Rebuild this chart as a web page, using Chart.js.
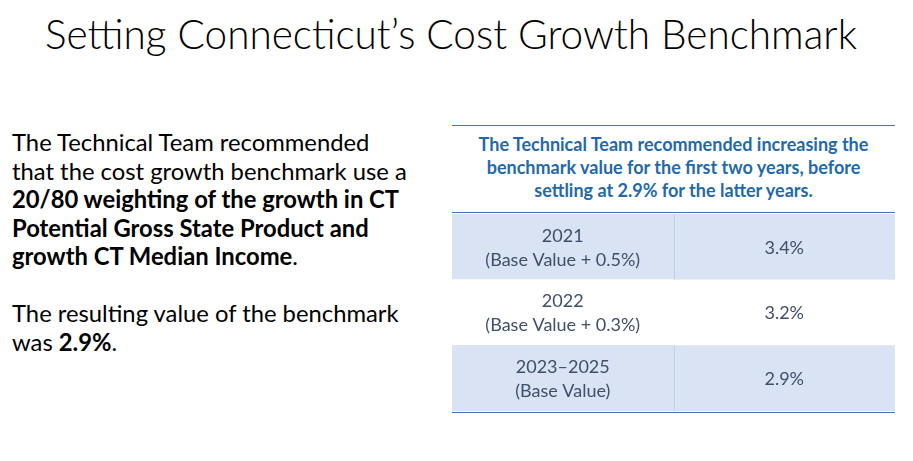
<!DOCTYPE html>
<html>
<head>
<meta charset="utf-8">
<script src="https://cdn.jsdelivr.net/npm/chart.js@4/dist/chart.umd.min.js"></script>
<style>
  body { margin: 0; width: 913px; height: 461px; background: #fff; position: relative; overflow: hidden; font-family: Lato, "Open Sans", sans-serif; }
  #title { position: absolute; left: 0; top: 9px; width: 902px; text-align: center; font-size: 40.5px; font-weight: 300; color: #000; }
  #body { position: absolute; left: 12px; top: 128px; font-size: 23.8px; line-height: 28.5px; color: #000; }
  #body p { margin: 0 0 28.5px 0; }
  #head { position: absolute; left: 452px; top: 125px; width: 443px; height: 88px; border-top: 1.5px solid #4472c4; border-bottom: 1.5px solid #4472c4; box-sizing: border-box; }
  #head div { padding-top: 6.5px; text-align: center; color: #2369a8; font-weight: bold; font-size: 18px; line-height: 23.3px; }
  #wrap { position: absolute; left: 452px; top: 214px; width: 443px; height: 199px; border-bottom: 1.5px solid #4472c4; box-sizing: border-box; }
</style>
</head>
<body>
<div id="title">Setting Connecticut’s Cost Growth Benchmark</div>
<div id="body">
  <p>The Technical Team recommended<br>that the cost growth benchmark use a<br><b>20/80 weighting of the growth in CT<br>Potential Gross State Product and<br>growth CT Median Income</b>.</p>
  <p>The resulting value of the benchmark<br>was <b>2.9%</b>.</p>
</div>
<div id="head"><div>The Technical Team recommended increasing the<br>benchmark value for the first two years, before<br>settling at 2.9% for the latter years.</div></div>
<div id="wrap"><canvas id="table" width="443" height="197"></canvas></div>
<script>
// table rows
const years = ['2021', '2022', '2023–2025'];
const notes = ['(Base Value + 0.5%)', '(Base Value + 0.3%)', '(Base Value)'];
const benchmarkValues = [3.4, 3.2, 2.9];

const rowFill = ['#dae3f3', '#ffffff', '#dae3f3'];
const rowDivider = ['#b4c7e7', '#ffffff', '#b4c7e7'];

const cellText = {
    id: 'cellText',
    afterDatasetsDraw(chart) {
        const ctx = chart.ctx;
        const left = chart.getDatasetMeta(0).data;
        const right = chart.getDatasetMeta(1).data;
        ctx.save();
        ctx.fillStyle = '#3d4f6b';
        ctx.textAlign = 'center';
        ctx.textBaseline = 'middle';
        ctx.font = '18px Lato, "Open Sans", sans-serif';
        years.forEach((y, i) => {
            const l = left[i].getCenterPoint();
            ctx.fillText(y, l.x, l.y - 11);
            ctx.fillText(notes[i], l.x, l.y + 13);
            const r = right[i].getCenterPoint();
            ctx.fillText(benchmarkValues[i].toFixed(1) + '%', r.x, r.y + 1);
        });
        ctx.restore();
    }
};

new Chart(document.getElementById('table'), {
    type: 'bar',
    data: {
        labels: years,
        datasets: [{
                data: years.map(() => [0, 1]),
                backgroundColor: rowFill,
                borderWidth: 0
            },
            {
                data: benchmarkValues.map(() => [1, 2]),
                backgroundColor: rowFill,
                borderColor: rowDivider,
                borderWidth: { left: 1.5, top: 0, right: 0, bottom: 0 },
                borderSkipped: false
            }
        ]
    },
    options: {
        indexAxis: 'y',
        responsive: false,
        animation: false,
        grouped: false,
        barPercentage: 1,
        categoryPercentage: 1,
        layout: { padding: 0 },
        plugins: { legend: { display: false }, tooltip: { enabled: false } },
        scales: {
            x: { type: 'linear', min: 0, max: 2, display: false },
            y: { display: false }
        }
    },
    plugins: [cellText]
});
</script>
</body>
</html>
